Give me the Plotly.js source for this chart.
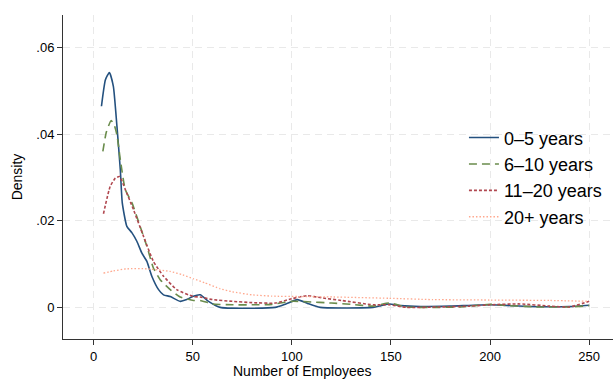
<!DOCTYPE html>
<html>
<head>
<meta charset="utf-8">
<script src="https://cdn.plot.ly/plotly-3.0.1.min.js"></script>
<style>html,body{margin:0;padding:0;background:#fff;}#chart{width:613px;height:381px;}</style>
</head>
<body>
<div id="chart"></div>
<script>
// Series names
const seriesNames = ["0\u20135 years", "6\u201310 years", "11\u201320 years", "20+ years"];

// 0–5 years
const x05 = [4,6,8,10,11.8,13.5,14.5,16.8,19.4,21.9,24.4,26.9,29.4,32.8,35.3,38.7,43.7,47,50,53.8,58,63.9,91.6,97,102.8,108,114.3,141,145,149,155,165,180,200,220,240,250];
const y05 = [.0464,.0525,.0542,.0510,.0418,.0318,.0241,.0187,.0172,.0152,.0125,.0106,.0072,.0041,.0029,.0025,.0014,.0018,.0025,.0029,.0014,0,0,.0008,.0018,.0009,0,0,.0004,.0008,.0004,.0002,.0003,.0006,.0002,.0002,.0005];

// 6–10 years
const x610 = [4.7,6.5,8.9,10.5,11.8,13.5,16,19.4,23.5,26.9,30.2,33.6,38.7,43.7,50.4,53.8,60,70,80,90,100,108,120,130,141,149,158,170,185,200,210,225,240,250];
const y610 = [.0360,.0405,.0431,.0420,.0398,.0341,.0272,.0241,.0187,.0141,.0091,.0064,.0041,.0024,.0016,.0016,.0008,.0006,.0006,.0007,.0014,.0013,.0010,.0007,.0003,.0010,.0001,0,.0001,.0007,.0004,.0001,.0001,.0004];

// 11–20 years
const x1120 = [5,8.4,11,13.1,16,20.2,25.2,30.2,35.3,42,50.4,53.8,60,70,80,91.6,100,107.5,115,125,141,149,158,175,190,200,215,230,240,250];
const y1120 = [.0216,.0279,.0298,.0302,.0272,.0225,.0164,.0106,.0072,.0041,.0025,.0024,.0018,.0014,.0011,.0010,.0020,.0027,.0022,.0016,.0006,.0006,0,.0001,.0003,.0006,.0008,.0003,.0001,.0014];

// 20+ years
const x20 = [5,10,16.8,26.9,38.7,45,50.4,56,63.9,70,80,90,104,121,149,171,200,230,250];
const y20 = [.0079,.0084,.0089,.0089,.0083,.0075,.0066,.0057,.0043,.0036,.0029,.0026,.0025,.0024,.0021,.0018,.0017,.0016,.0014];

// Tick labels
const xTicks = [0,50,100,150,200,250];
const yTickVals = [0,0.02,0.04,0.06];
const yTickText = ["0",".02",".04",".06"];

const FONT = "Liberation Sans, Arial, Helvetica, sans-serif";

const traces = [
  {x:x05, y:y05, name:seriesNames[0], mode:"lines", line:{color:"#24517f", width:1.6, shape:"spline", smoothing:0.5}},
  {x:x610, y:y610, name:seriesNames[1], mode:"lines", line:{color:"#6a8c4c", width:1.6, dash:"8px,5px", shape:"spline", smoothing:0.5}},
  {x:x1120, y:y1120, name:seriesNames[2], mode:"lines", line:{color:"#b0474f", width:1.6, dash:"3px,2px", shape:"spline", smoothing:0.5}},
  {x:x20, y:y20, name:seriesNames[3], mode:"lines", line:{color:"#ffa88e", width:1.3, dash:"1.5px,2px", shape:"spline", smoothing:0.5}}
];

const axisCommon = {
  showline:true, linecolor:"#333", linewidth:1,
  ticks:"outside", ticklen:5, tickcolor:"#333", tickwidth:1,
  showgrid:true, gridcolor:"#e9e9e9", gridwidth:1, griddash:"7px,5px",
  zeroline:false,
  tickfont:{family:FONT, size:13, color:"#000"}
};

const layout = {
  width:613, height:381,
  margin:{l:63, r:0, t:15, b:42},
  paper_bgcolor:"#fff", plot_bgcolor:"#fff",
  font:{family:FONT, color:"#000"},
  showlegend:true,
  legend:{x:0.729, y:0.678, xanchor:"left", yanchor:"top", bgcolor:"rgba(0,0,0,0)",
          font:{family:FONT, size:18, color:"#000"}, tracegroupgap:0},
  xaxis:Object.assign({}, axisCommon, {range:[-15.4,262], tickvals:xTicks, ticktext:xTicks.map(String)}),
  yaxis:Object.assign({}, axisCommon, {range:[-0.00729,0.06745], tickvals:yTickVals, ticktext:yTickText}),
  annotations:[
    {text:"Number of Employees", xref:"paper", yref:"paper", x:0.435, y:-0.098, xanchor:"center", yanchor:"middle", showarrow:false, font:{family:FONT, size:14, color:"#000"}},
    {text:"Density", xref:"paper", yref:"paper", x:-0.083, y:0.5, xanchor:"center", yanchor:"middle", textangle:-90, showarrow:false, font:{family:FONT, size:14, color:"#000"}}
  ]
};

Plotly.newPlot("chart", traces, layout, {displayModeBar:false, staticPlot:true});
</script>
</body>
</html>
